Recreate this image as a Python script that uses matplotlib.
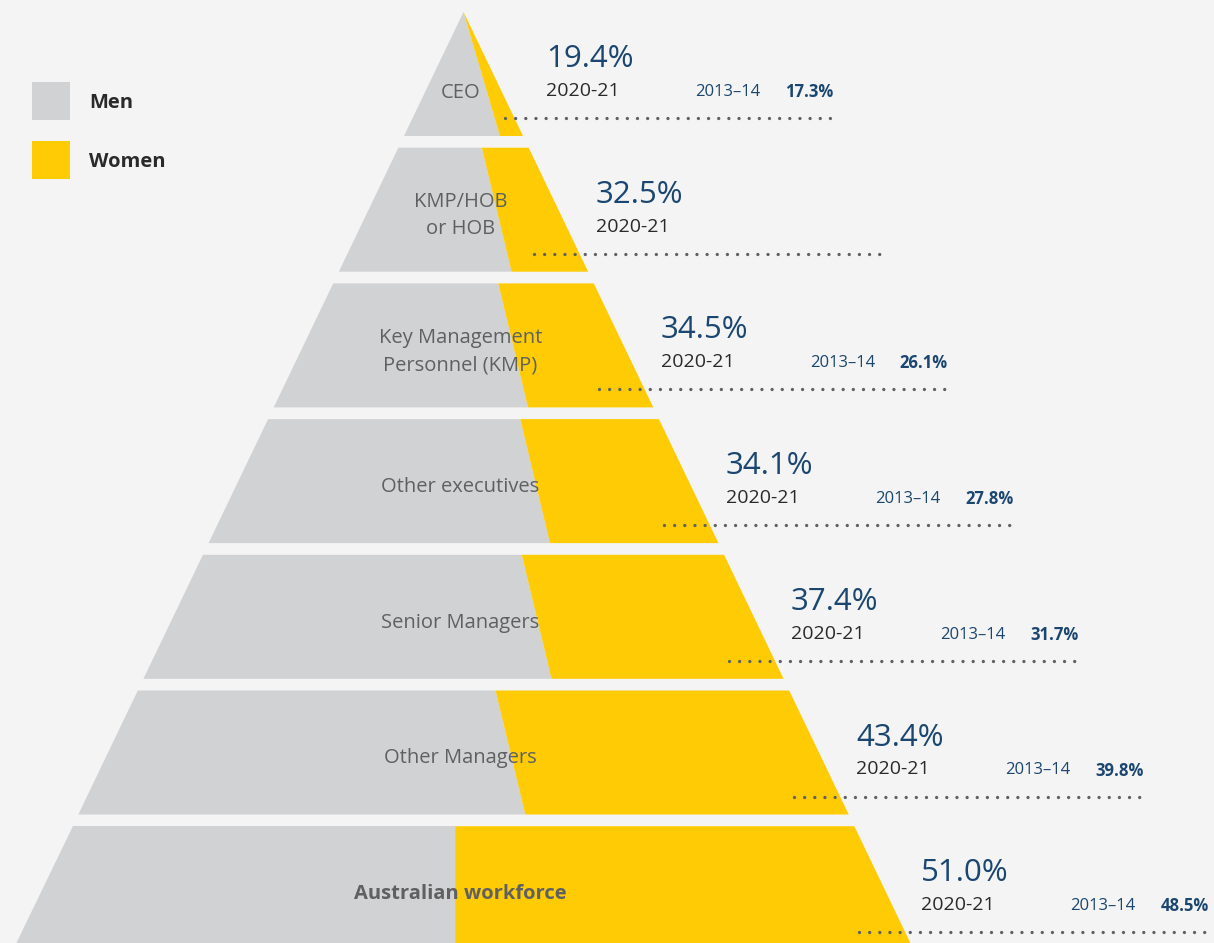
import matplotlib.pyplot as plt
from matplotlib.patches import Polygon, Rectangle

# ---- data ----
levels = ["CEO", "KMP/HOB\nor HOB", "Key Management\nPersonnel (KMP)",
          "Other executives", "Senior Managers", "Other Managers",
          "Australian workforce"]
women_2021 = [19.4, 32.5, 34.5, 34.1, 37.4, 43.4, 51.0]
women_2014 = [17.3, None, 26.1, 27.8, 31.7, 39.8, 48.5]
year_now = "2020-21"
year_then = "2013–14"

# ---- style ----
BG = "#f3f4f3"
GREY = "#d1d2d4"
YELLOW = "#ffcb05"
BLUE = "#1b4670"
LABEL = "#5f6062"
DARK = "#2a2a2a"
DOTS = "#5f6062"

plt.rcParams['font.family'] = ['Open Sans', 'DejaVu Sans']
plt.rcParams['lines.scale_dashes'] = False

fig = plt.figure(figsize=(12.14, 9.43), dpi=100, facecolor=BG)
ax = fig.add_axes([0, 0, 1, 1])
ax.set_facecolor(BG)
ax.set_xlim(0, 1214)
ax.set_ylim(943, 0)
ax.axis("off")

# pyramid geometry (pixel-like units)
apex_x, apex_y = 463.5, 12
slope = 0.48          # half width grows by this much per unit of depth
pitch = 135.7         # distance between band tops
band_h = 124


def left(y):
    return apex_x - slope * (y - apex_y)


def right(y):
    return apex_x + slope * (y - apex_y)


n = len(levels)
for i in range(n):
    top = apex_y + pitch * i
    bot = top + band_h
    p = women_2021[i] / 100

    # where the men / women split runs inside the band
    if i == 0:
        # apex triangle: split line goes through the tip
        s_top = apex_x
        s_bot = right(bot) - p * (right(bot) - left(bot))
    else:
        mid = (top + bot) / 2
        s_mid = right(mid) - p * (right(mid) - left(mid))
        tilt = 0.0 if i == n - 1 else slope / 2
        s_top = s_mid - tilt * (mid - top)
        s_bot = s_mid + tilt * (bot - mid)

    ax.add_patch(Polygon([(left(top), top), (s_top, top), (s_bot, bot), (left(bot), bot)],
                         closed=True, fc=GREY, ec="none", zorder=1))
    ax.add_patch(Polygon([(s_top, top), (right(top), top), (right(bot), bot), (s_bot, bot)],
                         closed=True, fc=YELLOW, ec="none", zorder=1))

    # label on the band
    ly = top + 0.65 * band_h if i == 0 else (top + bot) / 2 + 6
    ax.text(apex_x - 3, ly, levels[i], ha="center", va="center", fontsize=14.5,
            color=LABEL, linespacing=1.5,
            fontweight="bold" if i == n - 1 else "normal", zorder=3)

    # annotations to the right
    tx = 546 if i == 0 else right(top) + 67
    ax.text(tx, top + 47, f"{women_2021[i]:.1f}%", ha="left", va="center",
            fontsize=22.5, color=BLUE, zorder=3)
    ax.text(tx, top + 79, year_now, ha="left", va="center", fontsize=14,
            color=DARK, zorder=3)
    if women_2014[i] is not None:
        ax.text(tx + 149, top + 80, year_then, ha="left", va="center",
                fontsize=12, color=BLUE, zorder=3)
        ax.text(tx + 239, top + 80, f"{women_2014[i]:.1f}%", ha="left", va="center",
                fontsize=12, color=BLUE, fontweight="bold", zorder=3)

    # dotted rule
    x_start = tx - 41 if i == 0 else tx - 62
    ax.plot([x_start, tx + 287], [top + 106, top + 106], color=DOTS, lw=2.4,
            linestyle=(0, (0.01, 7.3)), dash_capstyle="round", zorder=2)

# ---- legend ----
for k, (name, col) in enumerate([("Men", GREY), ("Women", YELLOW)]):
    y = 82 + 59 * k
    ax.add_patch(Rectangle((32, y), 38, 38, fc=col, ec="none"))
    ax.text(89, y + 21, name, ha="left", va="center", fontsize=14.5,
            fontweight="bold", color=DARK)

fig.savefig("out.png", dpi=100, facecolor=BG)
